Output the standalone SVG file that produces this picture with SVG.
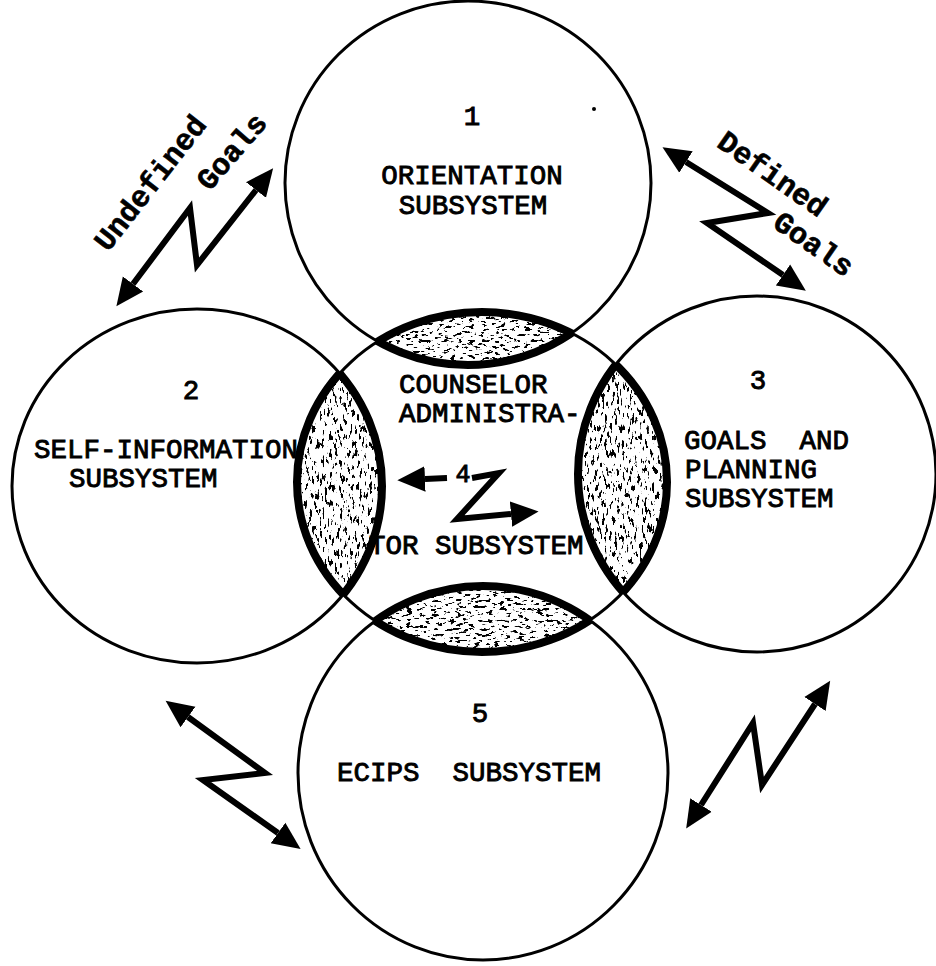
<svg xmlns="http://www.w3.org/2000/svg" width="936" height="966" viewBox="0 0 936 966">
<style>
.c{fill:none;stroke:#000;stroke-width:3}
.lb{fill:none;stroke:#000;stroke-width:8}
.t{font-family:"Liberation Mono","Courier New",monospace;font-size:27.5px;fill:#000;stroke:#000;stroke-width:0.9}
.g{font-family:"Liberation Mono","Courier New",monospace;font-size:30px;font-weight:bold;fill:#000;stroke:#000;stroke-width:0.6}
.a{fill:none;stroke:#000;stroke-width:6;stroke-linejoin:miter;stroke-miterlimit:10;marker-start:url(#head);marker-end:url(#head)}
.a1{fill:none;stroke:#000;stroke-width:6;stroke-linejoin:miter;stroke-miterlimit:10;marker-end:url(#head)}
</style>
<defs>
<marker id="head" markerUnits="userSpaceOnUse" markerWidth="30" markerHeight="30" viewBox="0 -12 26 24" refX="0" refY="0" orient="auto-start-reverse">
<path d="M0,-11 L24,0 L0,11 Z" fill="#000"/>
</marker>
<clipPath id="k1"><ellipse cx="468" cy="183" rx="183" ry="182"/></clipPath>
<clipPath id="k2"><ellipse cx="197" cy="486" rx="185" ry="177"/></clipPath>
<clipPath id="k3"><ellipse cx="757" cy="474" rx="179" ry="178"/></clipPath>
<clipPath id="k4"><ellipse cx="482" cy="482" rx="185" ry="170"/></clipPath>
<clipPath id="k5"><ellipse cx="483" cy="773" rx="185" ry="187"/></clipPath>
<filter id="spV" x="0" y="0" width="1" height="1">
<feTurbulence type="fractalNoise" baseFrequency="0.4 0.12" numOctaves="3" seed="7" result="n"/>
<feColorMatrix in="n" type="matrix" values="0 0 0 0 0  0 0 0 0 0  0 0 0 0 0  -20 0 0 0 8.2" result="m"/>
<feComposite in="m" in2="SourceAlpha" operator="in"/>
</filter>
<filter id="spH" x="0" y="0" width="1" height="1">
<feTurbulence type="fractalNoise" baseFrequency="0.16 0.35" numOctaves="3" seed="11" result="n"/>
<feColorMatrix in="n" type="matrix" values="0 0 0 0 0  0 0 0 0 0  0 0 0 0 0  -20 0 0 0 8.2" result="m"/>
<feComposite in="m" in2="SourceAlpha" operator="in"/>
</filter>
</defs>
<rect width="936" height="966" fill="#fff"/>

<g id="overlaps">
<g clip-path="url(#k1)"><ellipse cx="482" cy="482" rx="185" ry="170" fill="#000" filter="url(#spH)"/></g>
<g clip-path="url(#k5)"><ellipse cx="482" cy="482" rx="185" ry="170" fill="#000" filter="url(#spH)"/></g>
<g clip-path="url(#k2)"><ellipse cx="482" cy="482" rx="185" ry="170" fill="#000" filter="url(#spV)"/></g>
<g clip-path="url(#k3)"><ellipse cx="482" cy="482" rx="185" ry="170" fill="#000" filter="url(#spV)"/></g>
<g clip-path="url(#k1)"><ellipse class="lb" cx="482" cy="482" rx="185" ry="170"/></g>
<g clip-path="url(#k5)"><ellipse class="lb" cx="482" cy="482" rx="185" ry="170"/></g>
<g clip-path="url(#k2)"><ellipse class="lb" cx="482" cy="482" rx="185" ry="170"/></g>
<g clip-path="url(#k3)"><ellipse class="lb" cx="482" cy="482" rx="185" ry="170"/></g>
<g clip-path="url(#k4)">
<ellipse class="lb" cx="468" cy="183" rx="183" ry="182"/>
<ellipse class="lb" cx="197" cy="486" rx="185" ry="177"/>
<ellipse class="lb" cx="757" cy="474" rx="179" ry="178"/>
<ellipse class="lb" cx="483" cy="773" rx="185" ry="187"/>
</g>
</g>

<g id="node1">
<ellipse class="c" cx="468" cy="183" rx="183" ry="182"/>
<text class="t" x="472" y="125" text-anchor="middle">1</text>
<text class="t" x="472" y="184" text-anchor="middle">ORIENTATION</text>
<text class="t" x="473" y="214" text-anchor="middle">SUBSYSTEM</text>
</g>
<g id="node2">
<ellipse class="c" cx="197" cy="486" rx="185" ry="177"/>
<text class="t" x="191" y="399" text-anchor="middle">2</text>
<text class="t" x="34" y="458">SELF-INFORMATION</text>
<text class="t" x="69" y="487">SUBSYSTEM</text>
</g>
<g id="node3">
<ellipse class="c" cx="757" cy="474" rx="179" ry="178"/>
<text class="t" x="758" y="389" text-anchor="middle">3</text>
<text class="t" x="684" y="449" xml:space="preserve">GOALS  AND</text>
<text class="t" x="685" y="478">PLANNING</text>
<text class="t" x="685" y="507">SUBSYSTEM</text>
</g>
<g id="node4">
<ellipse class="c" cx="482" cy="482" rx="185" ry="170"/>
<text class="t" x="399" y="393">COUNSELOR</text>
<text class="t" x="399" y="422">ADMINISTRA-</text>
<text class="t" x="463" y="482" text-anchor="middle" style="font-size:25px">4</text>
<text class="t" x="369" y="554">TOR SUBSYSTEM</text>
</g>
<g id="node5">
<ellipse class="c" cx="483" cy="773" rx="185" ry="187"/>
<text class="t" x="480" y="722" text-anchor="middle">5</text>
<text class="t" x="337" y="781" xml:space="preserve">ECIPS  SUBSYSTEM</text>
</g>

<g id="connectors">
<path class="a" d="M133,284 L190,208 L197,265 L256,190"/>
<path class="a" d="M686,162 L768,213 L707,223 L783,275"/>
<path class="a" d="M188,717 L265,773 L203,780 L278,833"/>
<path class="a" d="M701,805 L753,723 L762,785 L815,704"/>
<path class="a1" d="M447,478 L425,479"/>
<path class="a1" d="M472,478 L499,473 L457,519 L511,514"/>
</g>

<g id="labels">
<text class="g" text-anchor="middle" transform="translate(158,189) rotate(-52)">Undefined</text>
<text class="g" text-anchor="middle" transform="translate(239,158) rotate(-49)">Goals</text>
<text class="g" text-anchor="middle" transform="translate(767,182) rotate(35)">Defined</text>
<text class="g" text-anchor="middle" transform="translate(808,252) rotate(35)">Goals</text>
</g>
<circle cx="594" cy="109" r="2" fill="#000"/>
</svg>
